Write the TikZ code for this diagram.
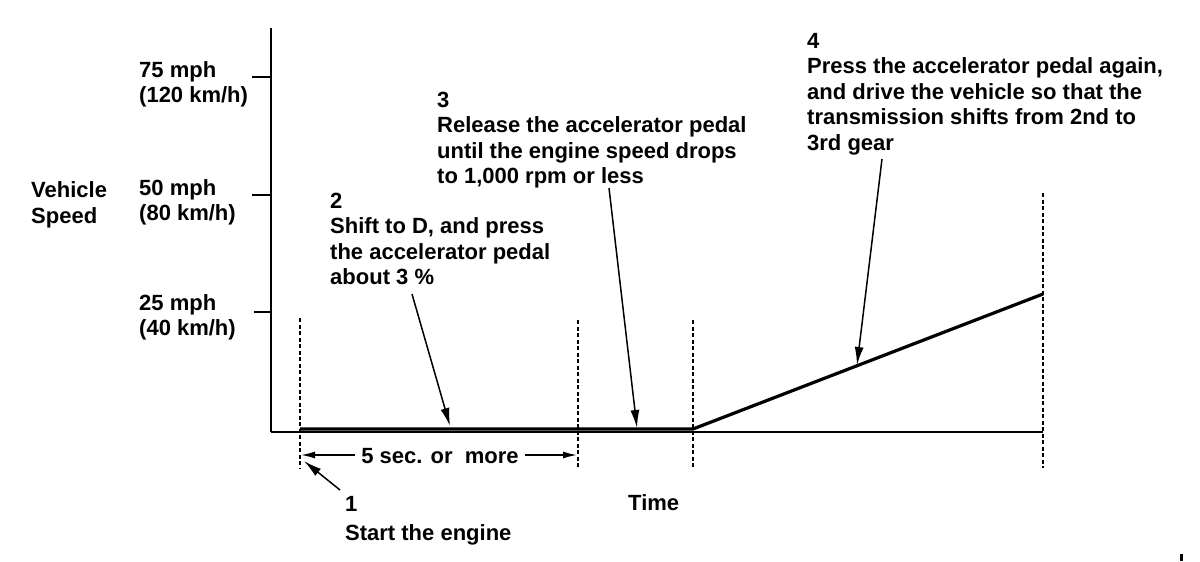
\documentclass[tikz,border=0pt]{standalone}
\usepackage{fontspec}
\setmainfont{Liberation Sans}
\usetikzlibrary{arrows.meta}
\begin{document}
\begin{tikzpicture}[x=1pt,y=-1pt,
  lbl/.style={font=\fontsize{22}{25.5}\selectfont\bfseries, inner sep=0pt, anchor=base west, align=left},
  yaxis/.style={line width=2pt},
  xaxis/.style={line width=1.5pt},
  tick/.style={line width=1.8pt},
  guide/.style={line width=1.6pt, dash pattern=on 4pt off 2.5pt},
  speed/.style={line width=3.2pt, line join=miter},
  pointer/.style={line width=1.5pt, -{Latex[length=18pt,width=9pt]}},
  dimarrow/.style={line width=1.5pt, -{Latex[length=14pt,width=7pt]}}
]
\useasboundingbox (0,0) rectangle (1200,562);

% axes
\coordinate (O) at (271,432);
\coordinate (ytop) at (271,28);
\coordinate (xend) at (1043,432);
\draw[yaxis] (ytop) -- (O);
\draw[xaxis] (O) -- (xend);

% ticks
\draw[tick] (252,77) -- (271,77);
\draw[tick] (252,195) -- (271,195);
\draw[line width=1.2pt] (254,312) -- (271,312);

% dashed guides
\draw[guide] (300,318) -- (300,468);
\draw[guide] (578,320) -- (578,468);
\draw[guide] (693,320) -- (693,468);
\draw[guide] (1043,193) -- (1043,468);

% speed profile
\coordinate (s0) at (300,429);
\coordinate (s1) at (693,429);
\coordinate (s2) at (1043,294);
\draw[speed] (s0) -- (s1) -- (s2);

% axis labels (base anchor = baseline of the last line)
\node[lbl] (vs) at (31,223) {Vehicle\\Speed};
\node[lbl] (v75) at (139,102.5) {75 mph\\(120 km/h)};
\node[lbl] (v50) at (139,220.5) {50 mph\\(80 km/h)};
\node[lbl] (v25) at (139,335.5) {25 mph\\(40 km/h)};
\node[lbl] (time) at (628,510) {Time};

% step labels
\node[lbl] (t1) at (345,511) {1};
\node[lbl] (t1b) at (345,540) {Start the engine};
\node[lbl] (t2) at (330,284.5) {2\\Shift to D, and press\\the accelerator pedal\\about 3 \%};
\node[lbl] (t3) at (437,183.5) {3\\Release the accelerator pedal\\until the engine speed drops\\to 1,000 rpm or less};
\node[lbl] (t4) at (807,150) {4\\Press the accelerator pedal again,\\and drive the vehicle so that the\\transmission shifts from 2nd to\\3rd gear};

% pointers
\coordinate (p1s) at (340,490);
\coordinate (p1e) at (304,461);
\coordinate (p2s) at (412,294);
\coordinate (p2e) at (450,426);
\coordinate (p3s) at (609,188);
\coordinate (p3e) at (637,428);
\coordinate (p4s) at (882,159);
\coordinate (p4e) at (857,365);
\draw[pointer] (p1s) -- (p1e);
\draw[pointer] (p2s) -- (p2e);
\draw[pointer] (p3s) -- (p3e);
\draw[pointer] (p4s) -- (p4e);

% dimension
\node[lbl, anchor=base] (dim) at (440,463) {5 sec. or\ \ more};
\coordinate (d0) at (301,455);
\coordinate (d1) at (577,455);
\draw[dimarrow] (dim.west |- d0) ++(-6pt,0) -- (d0);
\draw[dimarrow] (dim.east |- d1) ++(6pt,0) -- (d1);

% small mark
\fill (1180,554) rectangle (1183,561);
\end{tikzpicture}
\end{document}
